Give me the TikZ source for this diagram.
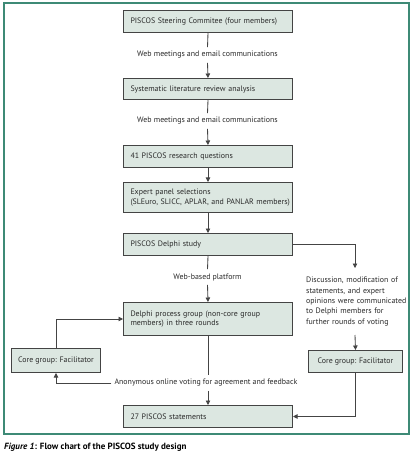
\documentclass[tikz,border=0pt]{standalone}
\usepackage{fontspec}
\setmainfont{PT Sans}
\usetikzlibrary{arrows.meta}
\definecolor{frameteal}{HTML}{3E8A76}
\definecolor{boxfill}{HTML}{DCE7E1}
\definecolor{boxline}{HTML}{444444}
\definecolor{txt}{HTML}{2A2A2A}
\begin{document}
\begin{tikzpicture}[x=1pt,y=-1pt,
  font=\fontsize{7.9}{9.4}\selectfont, text=txt,
  box/.style={draw=boxline, line width=1pt, fill=boxfill, anchor=north west,
    inner xsep=7pt, inner ysep=3pt, text width=155pt, align=left, minimum width=169pt},
  cbox/.style={draw=boxline, line width=1pt, fill=boxfill, anchor=north west, inner sep=2pt, align=center},
  lbl/.style={inner xsep=3pt, inner ysep=4pt},
  conn/.style={draw=boxline, line width=0.85pt},
  arr/.style={conn, -{Triangle[length=4.5pt,width=4.5pt]}}
]
\useasboundingbox (0,0) rectangle (413,454);
\fill[white] (0,0) rectangle (413,454);
\draw[frameteal, line width=1.4pt] (4,3) rectangle (409,434);

\node[box, minimum height=22pt] (b1) at (123,10) {PISCOS Steering Commitee (four members)};
\node[lbl] (l1) at (207.5,55) {Web meetings and email communications};
\node[box, minimum height=21pt] (b2) at (123,78) {Systematic literature review analysis};
\node[lbl] (l2) at (207.5,121) {Web meetings and email communications};
\node[box, minimum height=22pt] (b3) at (123,145) {41 PISCOS research questions};
\node[box, minimum height=30pt] (b4) at (123,182) {Expert panel selections\\\mbox{(SLEuro, SLICC, APLAR, and PANLAR members)}};
\node[box, minimum height=22pt] (b5) at (123,233) {PISCOS Delphi study};
\node[lbl] (l3) at (207.5,277) {Web-based platform};
\node[box, minimum height=33pt] (b6) at (123,302) {Delphi process group (non-core group\\members) in three rounds};
\node[lbl] (l4) at (206,383) {Anonymous online voting for agreement and feedback};
\node[box, minimum height=22pt] (b7) at (123,405) {27 PISCOS statements};

\node[cbox, minimum width=89pt, minimum height=24pt] (lc) at (11,348) {Core group: Facilitator};
\node[cbox, minimum width=94pt, minimum height=22pt] (rc) at (308,350) {Core group: Facilitator};

\node[anchor=north west, inner sep=0pt, text width=110pt, align=left,
  font=\fontsize{7.9}{10.4}\selectfont] (dt) at (306,277)
  {Discussion, modification of\\statements, and expert\\opinions were communicated\\to Delphi members for\\further rounds of voting};

\coordinate (dtop) at (355,268);
\coordinate (dbot) at (355,335);

\draw[conn] (b1.south) -- (l1.north);
\draw[arr] (l1.south) -- (b2.north);
\draw[conn] (b2.south) -- (l2.north);
\draw[arr] (l2.south) -- (b3.north);
\draw[arr] (b3.south) -- (b4.north);
\draw[arr] (b4.south) -- (b5.north);
\draw[conn] (b5.south) -- (l3.north);
\draw[arr] (l3.south) -- (b6.north);
\draw[conn] (b6.south) -- (b6.south |- l4.north);
\draw[arr] (b7.north |- l4.south) -- (b7.north);
\draw[arr] (b5.east) -| (dtop);
\draw[arr] (dbot) -- (rc.north);
\draw[arr] (rc.south) |- (b7.east);
\draw[arr] (l4.west) -| (lc.south);
\draw[arr] (lc.north) |- (b6.west);

\node[anchor=west, inner sep=0pt, font=\fontsize{9}{10}\selectfont\bfseries, text=black] (cap) at (4,447)
  {\textit{Figure 1}: Flow chart of the PISCOS study design};
\end{tikzpicture}
\end{document}
